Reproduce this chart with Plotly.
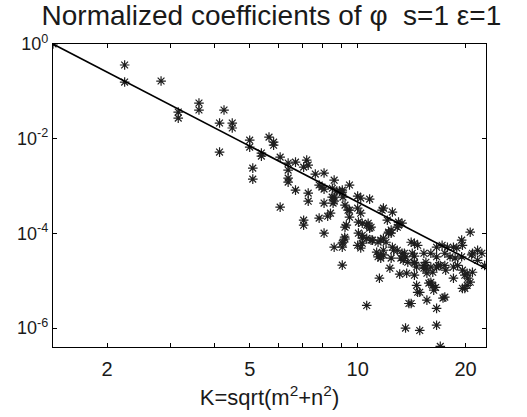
import plotly.graph_objects as go
import numpy as np

# Coefficient magnitudes (K = sqrt(m^2+n^2), value)
K = [1.414, 2.24, 2.24, 2.83, 3.16, 3.16, 3.61, 3.61, 4.24, 4.12, 4.47, 4.47, 4.12,
     5.0, 5.0, 5.39, 5.39, 5.66, 5.83, 5.83, 5.1, 5.1, 6.08, 6.08, 6.4, 6.4, 6.4, 6.4,
     6.71, 6.71, 7.21, 7.07, 7.28, 7.07, 7.07, 7.28, 7.28, 7.62, 8.06, 7.81, 7.95, 8.06,
     8.6, 7.81, 8.25, 8.06, 8.54, 8.06, 8.6, 8.49, 8.6, 9.06, 9.22, 9.22, 9.06,
     9.49, 8.6, 9.06, 9.49, 9.49, 9.3, 9.06, 10.0, 10.2, 10.8, 10.0, 10.2, 10.3, 10.6,
     10.8, 10.05, 10.3, 10.3, 10.3, 10.2, 9.22, 9.1, 9.06, 11.6, 11.4, 11.8, 12.0, 12.4,
     12.5, 11.7, 11.8, 12.1, 12.2, 11.5, 10.6, 11.0, 11.4, 13.0, 13.3, 12.9, 12.5, 12.9,
     13.3, 13.2, 13.6, 12.3, 13.1, 13.7, 14.4, 14.4, 14.6, 14.1, 14.4, 14.7, 14.1, 13.6,
     14.9, 14.6, 14.7, 15.6, 16.6, 17.3, 16.6, 15.3, 15.5, 16.0, 15.6, 16.2, 15.8, 16.2,
     16.3, 16.5, 15.3, 16.0, 16.6, 16.6, 17.0, 17.5, 17.0, 16.6, 17.2, 17.8, 18.5, 18.9,
     19.6, 19.5, 20.6, 21.6, 22.2, 22.6, 18.5, 19.0, 19.6, 19.9, 20.2, 20.6, 20.9, 21.6,
     18.5, 19.6, 17.5, 18.1, 19.5, 20.9, 18.7, 20.8, 14.2, 14.4, 13.8, 15.5, 15.3, 16.8,
     17.6, 14.4, 16.0, 14.9, 20.2, 20.3, 19.9, 17.5, 8.5, 8.75, 8.9, 8.4, 9.1, 9.4, 9.2,
     10.05, 10.7, 10.9, 10.0, 10.6, 10.9, 11.6, 11.8, 12.2, 12.4, 11.3, 11.8, 11.6, 12.4,
     12.6, 13.5, 13.4, 13.0, 13.9]
coef = [1.0, 0.36, 0.157, 0.165, 0.0365, 0.0272, 0.0566, 0.0403, 0.0403, 0.0214, 0.0214,
        0.0168, 0.00521,
        0.0093, 0.00665, 0.00497, 0.00429, 0.0108, 0.00845, 0.0073, 0.00239, 0.0014,
        0.00408, 0.000358, 0.00305, 0.00217, 0.00147, 0.00121, 0.0032, 0.000819, 0.00353,
        0.00251, 0.00277, 0.00019, 0.000149, 0.000708, 0.000479, 0.00179, 0.00188, 0.00105,
        0.00095, 0.00086, 0.00133, 0.00021, 0.000231, 0.000436, 0.000436, 0.000101, 5.1e-5,
        0.000583, 0.000583, 0.000819, 0.000395, 0.000135, 6.2e-5,
        0.00105, 0.000479, 0.000743, 0.000309, 0.00022, 0.000149, 2.13e-5, 0.000612,
        0.000556, 0.000529, 0.000341, 0.000267, 0.000164, 0.000149, 0.000129, 0.000101,
        9.1e-5, 7.9e-5, 6.2e-5, 4.9e-5, 7.6e-5, 6.5e-5, 5.1e-5, 3.5e-5, 3.2e-5, 4.4e-5,
        6.5e-5, 0.000101, 0.000282, 0.000309, 0.000341, 0.00019, 0.000106, 1.13e-5, 3.0e-6,
        7.2e-5, 6.5e-5, 0.000149, 0.000164, 0.000135, 5.1e-5, 4.4e-5, 3.8e-5, 3.0e-5, 3.2e-5,
        1.84e-5, 1.38e-5, 1.44e-5, 3.3e-5, 2.34e-5, 1.95e-5, 6.5e-5, 6.2e-5, 5.6e-5, 3.3e-6,
        1.0e-6, 8.9e-7, 8.0e-6, 5.7e-6, 3.9e-6, 2.6e-6, 4.3e-6, 1.15e-6, 2.1e-5, 1.84e-5,
        1.95e-5, 1.44e-5, 1.51e-5, 8.9e-6, 8.0e-6, 6.3e-6, 7.2e-6, 3.8e-5, 3.8e-5, 3.2e-5,
        1.95e-5, 2.1e-5, 2.1e-5, 4.1e-7, 5.1e-5, 5.6e-5, 5.1e-5, 5.1e-5, 4.9e-5, 5.6e-5,
        7.2e-5, 0.000106, 4.4e-5, 3.8e-5, 2.1e-5, 1.95e-5, 2.1e-5, 1.67e-5, 1.31e-5, 8.0e-6,
        9.3e-6, 1.51e-5, 2.7e-5, 1.13e-5, 6.9e-6, 3.8e-5, 3.2e-5, 3.2e-5, 3.8e-5, 3.0e-5,
        3.5e-5, 3.8e-5, 2.45e-5, 2.45e-5, 2.45e-5, 1.84e-5, 2.1e-5, 1.67e-5, 1.31e-5,
        9.3e-6, 5.7e-6, 1.44e-5, 1.13e-5, 6.9e-6, 4.5e-6, 0.0009, 0.00078, 0.00078,
        0.000267, 0.000583, 0.000309, 8.3e-5, 0.000173, 0.000164, 0.000135, 5.6e-5, 7.9e-5,
        7.2e-5, 7.2e-5, 7.9e-5, 0.000101, 0.000118, 4.0e-5, 3.5e-5, 3.0e-5, 3.0e-5, 4.4e-5,
        3.8e-5, 2.7e-5, 0.000173, 3.3e-6]

# Power-law reference line
fit_K = [1.414, 22.8]
fit_coef = [1.0, 1.8e-5]

x_tickvals = [2, 3, 4, 5, 6, 7, 8, 9, 10, 20]
x_ticktext = ["2", "", "", "5", "", "", "", "", "10", "20"]
y_tickvals = [1e-6, 1e-4, 1e-2, 1]
y_ticktext = ["10<sup>-6</sup>", "10<sup>-4</sup>", "10<sup>-2</sup>", "10<sup>0</sup>"]

FONT = "Liberation Sans, Arial, Helvetica, sans-serif"

fig = go.Figure()
fig.add_trace(go.Scatter(
    x=K, y=coef, mode="markers",
    marker=dict(symbol="asterisk-open", size=8, color="#1e1e1e",
                line=dict(color="#1e1e1e", width=1.2)),
    showlegend=False, hoverinfo="x+y"))
fig.add_trace(go.Scatter(
    x=fit_K, y=fit_coef, mode="lines",
    line=dict(color="black", width=1.6), showlegend=False))

fig.update_layout(
    width=527, height=417,
    margin=dict(l=53, r=41, t=44, b=70),
    paper_bgcolor="white", plot_bgcolor="white",
    font=dict(family=FONT, color="#1a1a1a", size=18),
    title=dict(text="Normalized coefficients of φ  s=1 ε=1",
               x=0.515, xanchor="center", y=0.988, yanchor="top",
               yref="container", pad=dict(t=0, b=0),
               font=dict(size=28, family=FONT, color="#1a1a1a")),
    xaxis=dict(type="log", range=[np.log10(1.414), np.log10(22.8)],
               tickvals=x_tickvals, ticktext=x_ticktext,
               ticks="inside", ticklen=4, tickwidth=1, tickcolor="black",
               showline=True, linecolor="black", linewidth=1.2, mirror="ticks",
               showgrid=False, zeroline=False, ticklabelstandoff=4,
               tickfont=dict(size=20),
               title=dict(text="K=sqrt(m<sup>2</sup>+n<sup>2</sup>)", standoff=10,
                          font=dict(size=22))),
    yaxis=dict(type="log", range=[-6.4, 0],
               tickvals=y_tickvals, ticktext=y_ticktext,
               ticks="inside", ticklen=4, tickwidth=1, tickcolor="black",
               showline=True, linecolor="black", linewidth=1.2, mirror="ticks",
               showgrid=False, zeroline=False,
               tickfont=dict(size=18)),
)

fig.write_html("out.html")
